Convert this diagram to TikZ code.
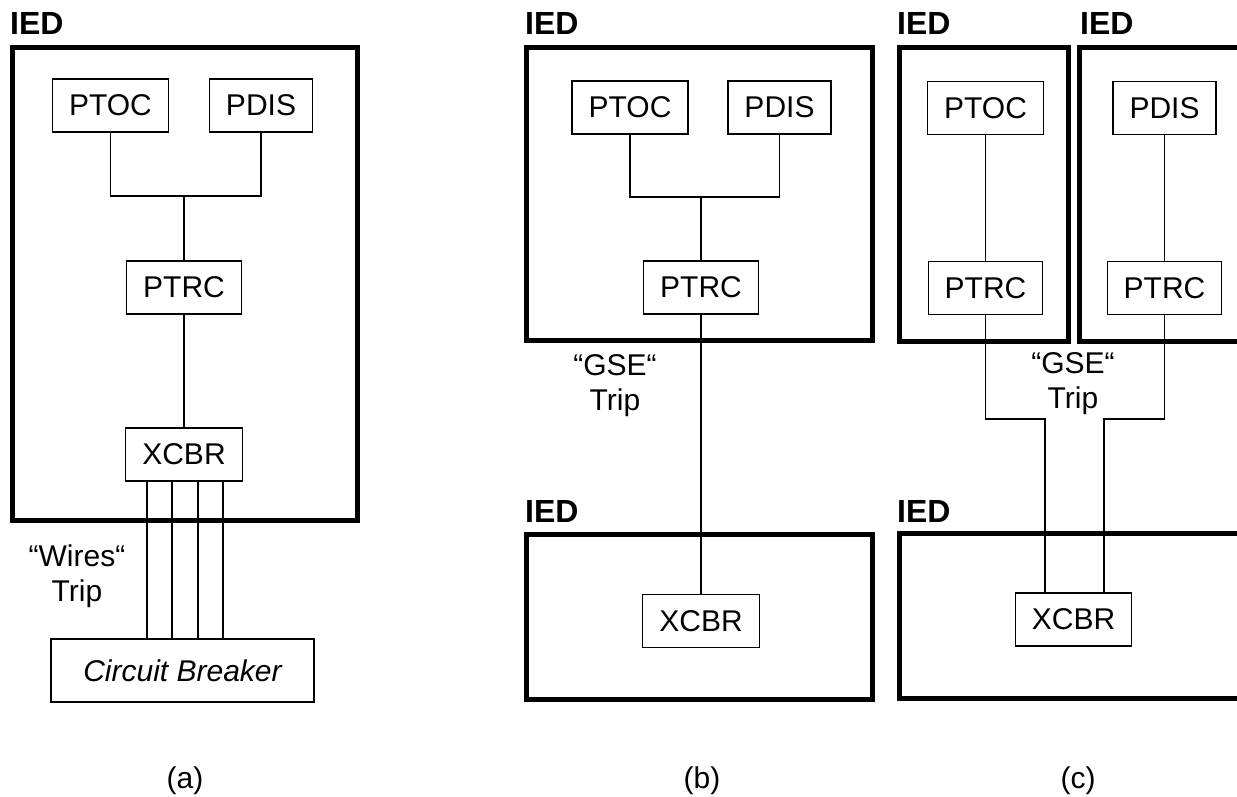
\documentclass[tikz,border=0pt]{standalone}
\usepackage{fontspec}
\setmainfont{Liberation Sans}
\begin{document}
\begin{tikzpicture}[x=1pt,y=-1pt,
  lnbox/.style={draw, line width=1.3pt, minimum height=53pt, inner xsep=16.5pt, inner ysep=0pt,
    font=\fontsize{30}{34.5}\selectfont},
  frame/.style={line width=5pt},
  wire/.style={line width=1.3pt},
  iedlbl/.style={font=\fontsize{32}{36}\selectfont\bfseries, anchor=base west, inner sep=0pt},
  txt/.style={font=\fontsize{30}{35}\selectfont, align=center, inner sep=0pt}]
\useasboundingbox (0,0) rectangle (1237,797);
\clip (0,0) rectangle (1237,797);

% ---------------- (a) ----------------
\draw[frame] (12.5,47.5) rectangle (357.5,520);
\node[iedlbl] (iedA) at (10,35) {IED};
\node[lnbox] (ptocA) at (110.5,105.5) {PTOC};
\node[lnbox] (pdisA) at (261,105.5) {PDIS};
\node[lnbox] (ptrcA) at (184,287.5) {PTRC};
\node[lnbox] (xcbrA) at (184,454.5) {XCBR};
\node[lnbox, minimum width=263pt, minimum height=63pt, font=\fontsize{30}{34.5}\selectfont\itshape] (cbA) at (182.5,670.5) {Circuit Breaker};
\coordinate (jA) at (184,196);
\draw[wire] (ptocA.south) |- (jA) -| (pdisA.south);
\draw[wire] (jA) -- (ptrcA.north);
\draw[wire] (ptrcA) -- (xcbrA);
\foreach \dx [count=\i] in {-37,-12,14,39}{
  \coordinate (w\i) at ([xshift=\dx pt]xcbrA.south);
  \draw[wire] (w\i) -- (w\i |- cbA.north);
}
\node[txt] (wiresA) at (77,576) {“Wires“\\Trip};
\node[txt] (capA) at (185,781) {(a)};

% ---------------- (b) ----------------
\draw[frame] (526,47.5) rectangle (872,340);
\draw[frame] (526,534) rectangle (872,699);
\node[iedlbl] (iedB1) at (525,35) {IED};
\node[iedlbl] (iedB2) at (525,522) {IED};
\node[lnbox] (ptocB) at (630,107.5) {PTOC};
\node[lnbox] (pdisB) at (779.5,107.5) {PDIS};
\node[lnbox] (ptrcB) at (701,287.5) {PTRC};
\node[lnbox] (xcbrB) at (701,621) {XCBR};
\coordinate (jB) at (701,197);
\draw[wire] (ptocB.south) |- (jB) -| (pdisB.south);
\draw[wire] (jB) -- (ptrcB.north);
\draw[wire] (ptrcB) -- (xcbrB);
\node[txt] (gseB) at (615,386) {“GSE“\\Trip};
\node[txt] (capB) at (702,781) {(b)};

% ---------------- (c) ----------------
\draw[frame] (899,47.5) rectangle (1068,341);
\draw[frame] (1245,47.5) -- (1079,47.5) -- (1079,341) -- (1245,341);
\draw[frame] (1245,533) -- (899,533) -- (899,698) -- (1245,698);
\node[iedlbl] (iedC1) at (897,35) {IED};
\node[iedlbl] (iedC2) at (1080,35) {IED};
\node[iedlbl] (iedC3) at (897,522) {IED};
\node[lnbox] (ptocC) at (985.5,108) {PTOC};
\node[lnbox] (ptrcC1) at (985.5,288) {PTRC};
\node[lnbox] (pdisC) at (1164.5,108) {PDIS};
\node[lnbox] (ptrcC2) at (1164.5,288) {PTRC};
\node[lnbox] (xcbrC) at (1073.5,619.5) {XCBR};
\draw[wire] (ptocC) -- (ptrcC1);
\draw[wire] (pdisC) -- (ptrcC2);
\coordinate (k1) at (1045,419);
\coordinate (k2) at (1104,419);
\draw[wire] (ptrcC1.south) |- (k1) -- (k1 |- xcbrC.north);
\draw[wire] (ptrcC2.south) |- (k2) -- (k2 |- xcbrC.north);
\node[txt] (gseC) at (1073,384) {“GSE“\\Trip};
\node[txt] (capC) at (1078,781) {(c)};
\end{tikzpicture}
\end{document}
